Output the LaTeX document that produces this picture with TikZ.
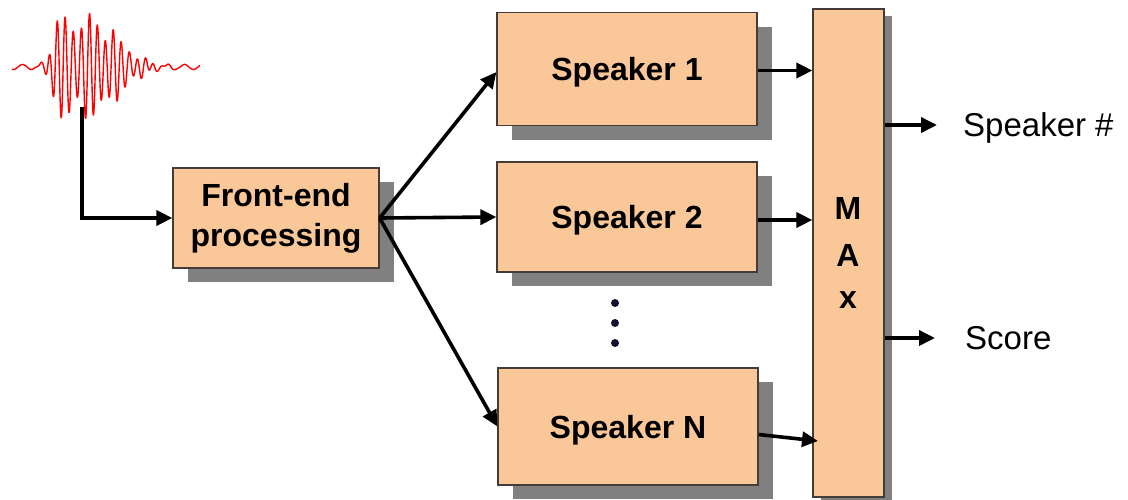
\documentclass[tikz,border=0pt]{standalone}
\usepackage{fontspec}
\setmainfont{Liberation Sans}
\usetikzlibrary{shadows,arrows.meta,calc}
\definecolor{peach}{RGB}{250,199,152}
\definecolor{shadowgray}{RGB}{128,128,128}
\definecolor{boxline}{RGB}{70,60,55}
\definecolor{dotcol}{RGB}{20,20,50}
\tikzset{
  blk/.style={draw=boxline, line width=1.2pt, fill=peach, inner sep=0pt,
    font=\bfseries\fontsize{32}{40}\selectfont, align=center},
  onel/.style={text depth=0pt},
  bigshadow/.style={drop shadow={shadow xshift=15pt, shadow yshift=-14pt, fill=shadowgray, opacity=1}},
  smallshadow/.style={drop shadow={shadow xshift=8pt, shadow yshift=-7pt, fill=shadowgray, opacity=1}},
  conn/.style={line width=3.6pt, -{Triangle[length=16pt,width=15pt]}},
  outtxt/.style={font=\fontsize{33}{38}\selectfont, anchor=west, inner sep=0pt}
}
\begin{document}
\begin{tikzpicture}[x=1pt,y=-1pt]
\useasboundingbox (0,0) rectangle (1128,499);
% waveform
\draw[red, line width=1.4pt, line join=round] plot[domain=12:200, samples=900]
  (\x, {67 - 54/(1+exp(min(9,(50-\x)/3)))*((\x<90)?1:exp(-((\x-90)/40)^2))*(0.8+0.2*sin(\x*13))*sin(\x*45+30+8*sin(\x*7)) - 2.5*sin(\x*20)});
\coordinate (w) at (82,107);
% blocks
\node[blk, bigshadow, minimum width=206pt, minimum height=100pt] (front) at (276,218) {Front-end\\processing};
\node[blk, onel, bigshadow, minimum width=260pt, minimum height=113pt] (s1) at (627,69) {Speaker 1};
\node[blk, onel, bigshadow, minimum width=260pt, minimum height=110pt] (s2) at (627,217) {Speaker 2};
\node[blk, onel, bigshadow, minimum width=260pt, minimum height=117pt] (sN) at (628,426.5) {Speaker N};
\node[blk, smallshadow, minimum width=71pt, minimum height=488pt] (max) at (848.5,253) {};
\node[font=\bfseries\fontsize{32}{40}\selectfont, inner sep=0pt] (mM) at (848,208) {M};
\node[font=\bfseries\fontsize{32}{40}\selectfont, inner sep=0pt] (mA) at (848,255) {A};
\node[font=\bfseries\fontsize{32}{40}\selectfont, inner sep=0pt] (mx) at (848,300) {x};
% dots
\fill[dotcol] (615,303) circle (4pt) (615,323) circle (4pt) (615,343) circle (4pt);
% connectors
\draw[conn] (w) |- (front.west);
\draw[conn] (front.east) -- ($(s1.west)+(0,3)$);
\draw[conn] (front.east) -- (s2.west);
\draw[conn] (front.east) -- (sN.west);
\draw[conn] ($(s1.east)+(0,1.5)$) -- ($(max.west|-s1.east)+(0,1.5)$);
\draw[conn] ($(s2.east)+(0,3)$) -- ($(max.west|-s2.east)+(0,3)$);
\coordinate (nIn) at (818,441);
\draw[conn] ($(sN.east)+(0,8)$) -- (nIn);
\coordinate (o1) at (937,125);
\coordinate (o2) at (935,338);
\draw[conn] (max.east |- o1) -- (o1);
\draw[conn] (max.east |- o2) -- (o2);
\node[outtxt] (spk) at (963,128) {Speaker \#};
\node[outtxt] (score) at (965,338) {Score};
\end{tikzpicture}
\end{document}
